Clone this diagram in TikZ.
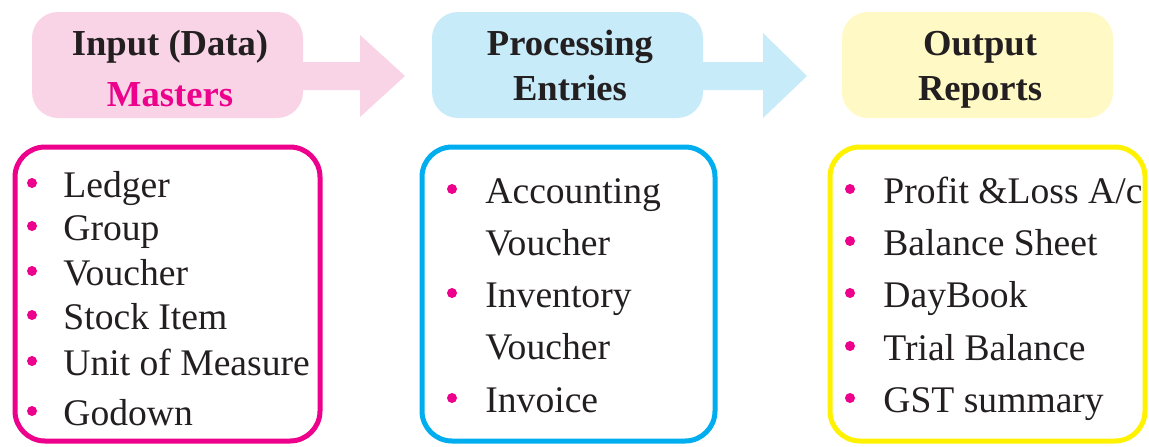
\documentclass[tikz,border=0pt]{standalone}
\usepackage{fontspec}
\setmainfont{Liberation Serif}
\definecolor{pinkfill}{HTML}{F9D4E6}
\definecolor{bluefill}{HTML}{C8EBFA}
\definecolor{yellowfill}{HTML}{FFF9C5}
\definecolor{mag}{HTML}{EC008C}
\definecolor{cyanline}{HTML}{00AEEF}
\definecolor{yelline}{HTML}{FFF200}
\definecolor{ink}{HTML}{231F20}
\begin{document}
\begin{tikzpicture}[x=0.5pt,y=-0.5pt,
  hbox/.style={rounded corners=13pt, inner sep=0pt, minimum width=135.5pt, minimum height=53pt},
  htext/.style={font=\fontsize{18.3}{20}\selectfont\bfseries, text=ink, anchor=base, inner sep=0pt},
  lbox/.style={draw, rounded corners=15pt, line width=2.5pt, inner sep=0pt, minimum height=147pt},
  item/.style={font=\fontsize{18.8}{20}\selectfont, anchor=base west, inner sep=0pt, text=ink},
  dot/.style={circle, fill=mag, inner sep=0pt, minimum size=5pt}]
\useasboundingbox (0,0) rectangle (1149,446);
% block arrows
\fill[pinkfill] (300,62) -- (360,62) -- (360,35) -- (405,76) -- (360,117) -- (360,90) -- (300,90) -- cycle;
\fill[bluefill] (700,62) -- (763,62) -- (763,33) -- (807,76) -- (763,118) -- (763,90) -- (700,90) -- cycle;
% header boxes
\node[hbox, fill=pinkfill] (h1) at (167.5,65) {};
\node[hbox, fill=bluefill] (h2) at (567.5,65) {};
\node[hbox, fill=yellowfill] (h3) at (977.5,65) {};
\node[htext] (t1a) at (170,55) {Input (Data)};
\node[htext, text=mag] (t1b) at (170,106) {Masters};
\node[htext] (t2a) at (570,55) {Processing};
\node[htext] (t2b) at (570,100) {Entries};
\node[htext] (t3a) at (980,55) {Output};
\node[htext] (t3b) at (980,100) {Reports};
% list boxes
\node[lbox, draw=mag, minimum width=152.5pt] (b1) at (167.5,294) {};
\node[lbox, draw=cyanline, minimum width=146.5pt] (b2) at (568.5,294) {};
\node[lbox, draw=yelline, minimum width=157.5pt] (b3) at (987.5,294) {};
% box 1 items
\foreach [count=\i] \t/\y in {Ledger/197, Group/240, Voucher/285, Stock Item/329, Unit of Measure/375, Godown/425}{
  \node[dot] (d1\i) at (32,\y-14) {};
  \node[item] (i1\i) at (63,\y) {\t};
}
% box 2 items
\node[dot] (d21) at (452,189) {};
\node[item] (i21) at (485,203) {Accounting};
\node[item] (i22) at (485,255) {Voucher};
\node[dot] (d23) at (452,293) {};
\node[item] (i23) at (485,307) {Inventory};
\node[item] (i24) at (485,359) {Voucher};
\node[dot] (d25) at (452,398) {};
\node[item] (i25) at (485,412) {Invoice};
% box 3 items
\node[dot] (d31) at (850,189) {};
\node[item] (i31) at (883,203) {Profit \&Loss A/c};
\node[dot] (d32) at (850,241) {};
\node[item] (i32) at (883,255) {Balance Sheet};
\node[dot] (d33) at (850,293) {};
\node[item] (i33) at (883,307) {DayBook};
\node[dot] (d34) at (850,346) {};
\node[item] (i34) at (883,360) {Trial Balance};
\node[dot] (d35) at (850,398) {};
\node[item] (i35) at (883,412) {GST summary};
\end{tikzpicture}
\end{document}
